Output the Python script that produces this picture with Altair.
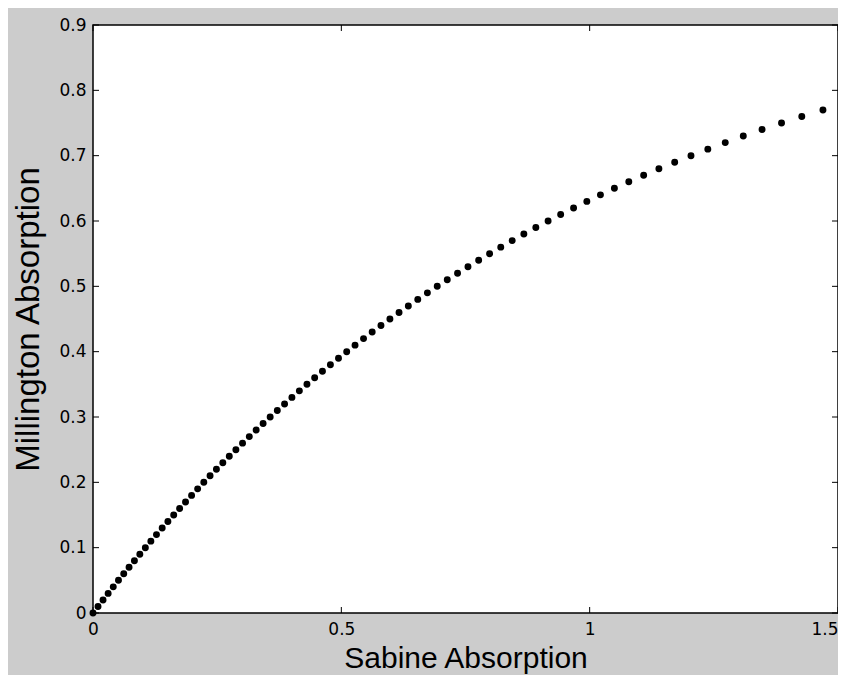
import altair as alt
import pandas as pd

# Millington vs Sabine absorption
millington = [0.00, 0.01, 0.02, 0.03, 0.04, 0.05, 0.06, 0.07, 0.08, 0.09,
              0.10, 0.11, 0.12, 0.13, 0.14, 0.15, 0.16, 0.17, 0.18, 0.19,
              0.20, 0.21, 0.22, 0.23, 0.24, 0.25, 0.26, 0.27, 0.28, 0.29,
              0.30, 0.31, 0.32, 0.33, 0.34, 0.35, 0.36, 0.37, 0.38, 0.39,
              0.40, 0.41, 0.42, 0.43, 0.44, 0.45, 0.46, 0.47, 0.48, 0.49,
              0.50, 0.51, 0.52, 0.53, 0.54, 0.55, 0.56, 0.57, 0.58, 0.59,
              0.60, 0.61, 0.62, 0.63, 0.64, 0.65, 0.66, 0.67, 0.68, 0.69,
              0.70, 0.71, 0.72, 0.73, 0.74, 0.75, 0.76, 0.77]
sabine = [0.0000, 0.0101, 0.0202, 0.0305, 0.0408, 0.0513, 0.0619, 0.0726, 0.0834, 0.0943,
          0.1054, 0.1165, 0.1278, 0.1393, 0.1508, 0.1625, 0.1744, 0.1863, 0.1985, 0.2107,
          0.2231, 0.2357, 0.2485, 0.2614, 0.2744, 0.2877, 0.3011, 0.3147, 0.3285, 0.3425,
          0.3567, 0.3711, 0.3857, 0.4005, 0.4155, 0.4308, 0.4463, 0.4620, 0.4780, 0.4943,
          0.5108, 0.5276, 0.5447, 0.5621, 0.5798, 0.5978, 0.6162, 0.6349, 0.6539, 0.6733,
          0.6931, 0.7133, 0.7340, 0.7550, 0.7765, 0.7985, 0.8210, 0.8440, 0.8675, 0.8916,
          0.9163, 0.9416, 0.9676, 0.9943, 1.0217, 1.0498, 1.0788, 1.1087, 1.1394, 1.1712,
          1.2040, 1.2379, 1.2730, 1.3093, 1.3471, 1.3863, 1.4271, 1.4697]

x_ticks = [0, 0.5, 1, 1.5]
y_ticks = [0, 0.1, 0.2, 0.3, 0.4, 0.5, 0.6, 0.7, 0.8, 0.9]

W, H = 745, 588
TL = 6
FONT = "Liberation Sans"
TICKFONT = "DejaVu Sans"

df = pd.DataFrame({"sabine": sabine, "millington": millington})
xt = pd.DataFrame({"v": x_ticks})
yt = pd.DataFrame({"v": y_ticks})

xscale = alt.Scale(domain=[0, 1.5], nice=False, zero=False)
yscale = alt.Scale(domain=[0, 0.9], nice=False, zero=False)

points = alt.Chart(df).mark_circle(size=48, color="black", opacity=1).encode(
    x=alt.X("sabine:Q", scale=xscale, title="Sabine Absorption",
            axis=alt.Axis(values=x_ticks, format="~g", grid=False, domain=False, ticks=False,
                          labelPadding=8, labelFont=TICKFONT, labelFontSize=17, labelColor="black",
                          labelFlush=False, labelOverlap=False,
                          labelAlign=alt.ExprRef(expr="datum.value >= 1.5 ? 'right' : 'center'"),
                          titleFont=FONT, titleFontSize=30, titleFontWeight="normal",
                          titleColor="black", titleBaseline="alphabetic", titleY=54)),
    y=alt.Y("millington:Q", scale=yscale, title="Millington Absorption",
            axis=alt.Axis(values=y_ticks, format="~g", grid=False, domain=False, ticks=False,
                          labelPadding=7, labelFont=TICKFONT, labelFontSize=17, labelColor="black",
                          labelFlush=False, labelOverlap=False,
                          titleFont=FONT, titleFontSize=33, titleFontWeight="normal",
                          titleColor="black", titleBaseline="alphabetic", titleX=-55)),
)

xb = alt.Chart(xt).mark_rule(color="black", strokeWidth=1).encode(
    x=alt.X("v:Q", scale=xscale, axis=None), y=alt.value(H), y2=alt.value(H - TL))
xtp = alt.Chart(xt).mark_rule(color="black", strokeWidth=1).encode(
    x=alt.X("v:Q", scale=xscale, axis=None), y=alt.value(0), y2=alt.value(TL))
yl = alt.Chart(yt).mark_rule(color="black", strokeWidth=1).encode(
    y=alt.Y("v:Q", scale=yscale, axis=None), x=alt.value(0), x2=alt.value(TL))
yr = alt.Chart(yt).mark_rule(color="black", strokeWidth=1).encode(
    y=alt.Y("v:Q", scale=yscale, axis=None), x=alt.value(W), x2=alt.value(W - TL))

chart = alt.layer(points, xb, xtp, yl, yr).resolve_axis(
    x="independent", y="independent"
).properties(
    width=W, height=H,
    background="#cccccc",
    autosize=alt.AutoSizeParams(type="none"),
    padding={"left": 85, "top": 17, "right": 0, "bottom": 62},
).configure_view(stroke="black", strokeWidth=1.5, fill="white")

chart.save("out.html", embed_options={"renderer": "svg", "actions": False})
